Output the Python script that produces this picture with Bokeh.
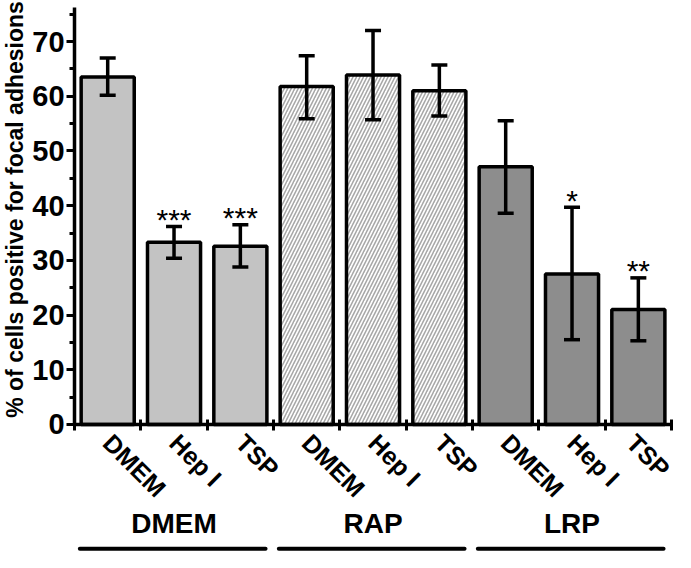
import math
from bokeh.plotting import figure
from bokeh.models import Range1d, FixedTicker, Whisker, TeeHead, ColumnDataSource
from bokeh.core.properties import value
from bokeh.embed import file_html
from bokeh.resources import INLINE

# ---- data ----
groups = ["DMEM", "RAP", "LRP"]
treatments = ["DMEM", "Hep I", "TSP"]
means = [63.5, 33.3, 32.6, 61.8, 63.9, 61.0, 47.1, 27.5, 21.0]
err_upper = [67.0, 36.2, 36.5, 67.4, 72.0, 65.7, 55.5, 39.7, 26.8]
err_lower = [60.2, 30.4, 28.8, 55.9, 55.7, 56.4, 38.6, 15.5, 15.3]
stars = ["", "***", "***", "", "", "", "", "*", "**"]
y_ticks = [0, 10, 20, 30, 40, 50, 60, 70]
y_minor = [5, 15, 25, 35, 45, 55, 65, 75]
y_title = "% of cells positive for focal adhesions"
group_fill = ["#c3c3c3", "#ffffff", "#8d8d8d"]
group_hatch = [" ", "/", " "]

n = len(means)
xs = [i + 0.5 for i in range(n)]
labels = [t for g in groups for t in treatments]

FONT = "Liberation Sans"

# frame fills the whole figure; axes are pinned at x=0 / y=0
p = figure(width=675, height=552, output_backend="svg", toolbar_location=None,
           x_range=Range1d(-1.116, 9.06), y_range=Range1d(-23.4, 77.5),
           min_border_left=0, min_border_right=0, min_border_top=0, min_border_bottom=0)
p.grid.visible = False
p.outline_line_color = None
p.background_fill_color = "white"

# bars per group
for gi in range(len(groups)):
    sl = slice(gi * 3, gi * 3 + 3)
    src = ColumnDataSource(dict(x=xs[sl], top=means[sl]))
    p.vbar(x="x", top="top", bottom=0, width=0.8, source=src,
           fill_color=group_fill[gi], line_color="black", line_width=3.5,
           hatch_pattern=group_hatch[gi], hatch_color="#a8a8a8",
           hatch_scale=7, hatch_weight=1.6)

# error bars
esrc = ColumnDataSource(dict(x=xs, upper=err_upper, lower=err_lower,
                             star=stars, sy=err_upper))
w = Whisker(base="x", upper="upper", lower="lower", source=esrc,
            line_width=3.5, line_color="black", level="overlay",
            upper_head=TeeHead(size=16, line_width=3.5, line_color="black"),
            lower_head=TeeHead(size=16, line_width=3.5, line_color="black"))
p.add_layout(w)

# significance stars
p.text(x="x", y="sy", text="star", source=esrc, text_align="center",
       text_baseline="alphabetic", y_offset=-7, text_font=value(FONT),
       text_font_size="30px", text_color="black")

# x axis at y=0
xa = p.xaxis[0]
xa.fixed_location = 0
xa.bounds = (0, n)
xa.ticker = FixedTicker(ticks=xs, minor_ticks=list(range(n + 1)))
xa.major_label_overrides = {x: l for x, l in zip(xs, labels)}
xa.major_label_orientation = -math.pi / 4
xa.major_tick_line_color = None
xa.minor_tick_in = 5
xa.minor_tick_out = 6
xa.minor_tick_line_width = 3
xa.minor_tick_line_color = "black"
xa.axis_line_width = 3.5
xa.axis_line_color = "black"
xa.major_label_text_font = FONT
xa.major_label_text_font_style = "bold"
xa.major_label_text_font_size = "25px"
xa.major_label_text_color = "black"
xa.major_label_standoff = 8

# y axis at x=0
ya = p.yaxis[0]
ya.fixed_location = 0
ya.bounds = (0, 76.2)
ya.ticker = FixedTicker(ticks=y_ticks, minor_ticks=y_minor)
ya.axis_line_width = 3.5
ya.axis_line_color = "black"
ya.major_tick_line_width = 3
ya.minor_tick_line_width = 3
ya.major_tick_line_color = "black"
ya.minor_tick_line_color = "black"
ya.major_tick_out = 8
ya.major_tick_in = 0
ya.minor_tick_out = 5
ya.minor_tick_in = 0
ya.major_label_text_font = FONT
ya.major_label_text_font_style = "bold"
ya.major_label_text_font_size = "29px"
ya.major_label_text_color = "black"
ya.major_label_standoff = 2

# y title (drawn inside the frame, left of the pinned axis)
p.text(x=[-0.9], y=[39.3], text=[y_title], angle=math.pi / 2,
       text_align="center", text_baseline="middle", text_font=value(FONT),
       text_font_style="bold", text_font_size="23px", text_color="black")

# group labels and underlines
gx = [gi * 3 + 1.5 for gi in range(len(groups))]
gsrc = ColumnDataSource(dict(x=gx, y=[-18.1] * len(groups), t=groups,
                             x0=[gi * 3 + 0.08 for gi in range(len(groups))],
                             x1=[gi * 3 + 2.88 for gi in range(len(groups))],
                             ly=[-22.7] * len(groups)))
p.text(x="x", y="y", text="t", source=gsrc, text_align="center",
       text_baseline="middle", text_font=value(FONT), text_font_style="bold",
       text_font_size="28px", text_color="black")
p.segment(x0="x0", y0="ly", x1="x1", y1="ly", source=gsrc, line_width=4,
          line_color="black", line_cap="round")

open("out.html", "w").write(file_html(p, INLINE))
